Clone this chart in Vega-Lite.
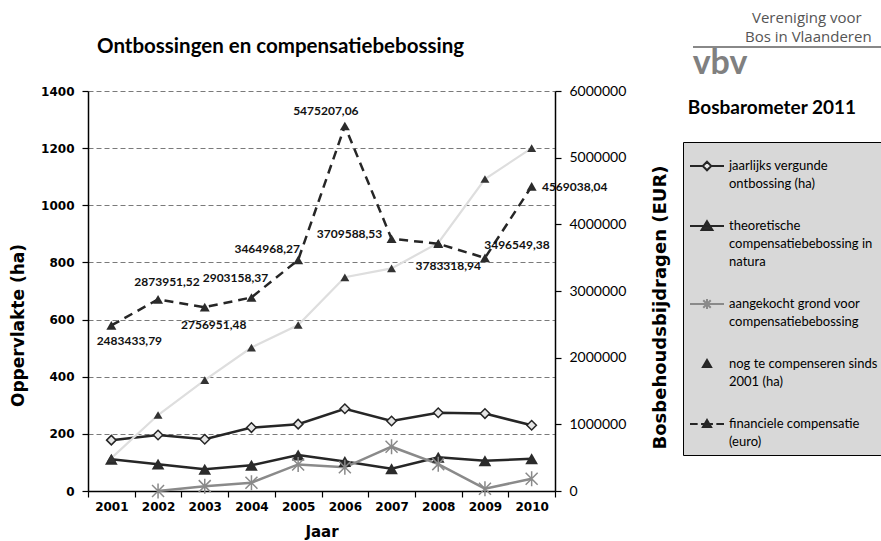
{
  "$schema": "https://vega.github.io/schema/vega-lite/v6.json",
  "width": 467,
  "height": 400,
  "autosize": {"type": "none"},
  "padding": {"left": 88, "top": 91, "right": 326, "bottom": 50},
  "background": "white",
  "title": {
    "text": "Ontbossingen en compensatiebebossing",
    "anchor": "start",
    "frame": "group",
    "dx": 9,
    "offset": -62,
    "baseline": "alphabetic",
    "font": "Lato",
    "fontSize": 20.5,
    "fontWeight": "bold",
    "color": "#000000"
  },
  "config": {
    "view": {"fill": "#d8d8d8", "stroke": null},
    "axis": {"domainColor": "#000000", "tickColor": "#000000", "domainWidth": 1.5, "tickWidth": 1.2, "labelColor": "#000000", "titleColor": "#000000"}
  },
  "data": {
    "values": [
      {"year": 2001, "ontb": 178, "theo": 111, "aank": null, "nog": 115, "fin": 2483433.79, "lbl": "2483433,79"},
      {"year": 2002, "ontb": 196, "theo": 94, "aank": 0, "nog": 266, "fin": 2873951.52, "lbl": "2873951,52"},
      {"year": 2003, "ontb": 181, "theo": 76, "aank": 17, "nog": 388, "fin": 2756951.48, "lbl": "2756951,48"},
      {"year": 2004, "ontb": 222, "theo": 90, "aank": 29, "nog": 502, "fin": 2903158.37, "lbl": "2903158,37"},
      {"year": 2005, "ontb": 234, "theo": 126, "aank": 93, "nog": 581, "fin": 3464968.27, "lbl": "3464968,27"},
      {"year": 2006, "ontb": 288, "theo": 103, "aank": 83, "nog": 748, "fin": 5475207.06, "lbl": "5475207,06"},
      {"year": 2007, "ontb": 245, "theo": 78, "aank": 155, "nog": 779, "fin": 3783318.94, "lbl": "3709588,53"},
      {"year": 2008, "ontb": 274, "theo": 118, "aank": 94, "nog": 868, "fin": 3709588.53, "lbl": "3783318,94"},
      {"year": 2009, "ontb": 271, "theo": 106, "aank": 8, "nog": 1092, "fin": 3496549.38, "lbl": "3496549,38"},
      {"year": 2010, "ontb": 230, "theo": 113, "aank": 43, "nog": 1200, "fin": 4569038.04, "lbl": "4569038,04"}
    ]
  },
  "layer": [
    {
      "encoding": {
        "x": {"field": "year", "type": "ordinal", "bandPosition": 0.5,
          "scale": {"type": "band", "paddingInner": 0, "paddingOuter": 0},
          "axis": {"labelAngle": 0, "tickBand": "extent", "tickSize": 6, "labelPadding": 4,
            "labelFont": "DejaVu Sans", "labelFontWeight": "bold", "labelFontSize": 12,
            "title": "Jaar", "titleFont": "DejaVu Sans", "titleFontWeight": "bold", "titleFontSize": 15,
            "titleY": 40, "titleBaseline": "middle"}}
      },
      "layer": [
        {"mark": {"type": "line", "color": "#262626", "strokeWidth": 2.5},
         "encoding": {"y": {"field": "ontb", "type": "quantitative",
           "scale": {"domain": [0, 1400], "nice": false},
           "axis": {"orient": "left", "values": [0, 200, 400, 600, 800, 1000, 1200, 1400], "format": "d",
             "grid": true, "gridDash": [5, 3], "gridColor": "#7a7a7a", "gridWidth": 1,
             "tickSize": 6, "labelPadding": 8, "labelFlush": false,
             "labelFont": "DejaVu Sans", "labelFontWeight": "bold", "labelFontSize": 12,
             "title": "Oppervlakte (ha)", "titleFont": "DejaVu Sans", "titleFontWeight": "bold", "titleFontSize": 17,
             "titleAngle": -90, "titleX": -70, "titleY": 234, "titleBaseline": "middle"}}}},
        {"mark": {"type": "line", "color": "#262626", "strokeWidth": 2.5},
         "encoding": {"y": {"field": "theo", "type": "quantitative"}}},
        {"transform": [{"filter": "datum.aank != null"}],
         "mark": {"type": "line", "color": "#8a8a8a", "strokeWidth": 2.5},
         "encoding": {"y": {"field": "aank", "type": "quantitative"}}},
        {"mark": {"type": "line", "color": "#dedede", "strokeWidth": 2.2},
         "encoding": {"y": {"field": "nog", "type": "quantitative"}}},
        {"mark": {"type": "point", "shape": "diamond", "size": 90, "filled": true, "fill": "#e6e6e6", "stroke": "#262626", "strokeWidth": 1.5, "opacity": 1},
         "encoding": {"y": {"field": "ontb", "type": "quantitative"}}},
        {"mark": {"type": "point", "shape": "triangle-up", "size": 160, "filled": true, "color": "#2b2b2b", "opacity": 1},
         "encoding": {"y": {"field": "theo", "type": "quantitative"}}},
        {"transform": [{"filter": "datum.aank != null"}],
         "mark": {"type": "point", "shape": "M-0.8,-0.8L0.8,0.8M-0.8,0.8L0.8,-0.8M0,-1L0,1", "size": 225, "filled": false, "stroke": "#8a8a8a", "strokeWidth": 1.5, "opacity": 1},
         "encoding": {"y": {"field": "aank", "type": "quantitative"}}},
        {"mark": {"type": "point", "shape": "triangle-up", "size": 80, "filled": true, "color": "#333333", "opacity": 1},
         "encoding": {"y": {"field": "nog", "type": "quantitative"}}}
      ]
    },
    {
      "encoding": {
        "x": {"field": "year", "type": "ordinal", "bandPosition": 0.5,
          "scale": {"type": "band", "paddingInner": 0, "paddingOuter": 0},
          "axis": {"labelAngle": 0, "tickBand": "extent", "tickSize": 6, "labelPadding": 4,
            "labelFont": "DejaVu Sans", "labelFontWeight": "bold", "labelFontSize": 12,
            "title": "Jaar", "titleFont": "DejaVu Sans", "titleFontWeight": "bold", "titleFontSize": 15,
            "titleY": 40, "titleBaseline": "middle"}},
        "y": {"field": "fin", "type": "quantitative",
          "scale": {"domain": [0, 6000000], "nice": false},
          "axis": {"orient": "right", "values": [0, 1000000, 2000000, 3000000, 4000000, 5000000, 6000000],
            "format": "d", "grid": false, "tickSize": 6, "labelPadding": 8, "labelFlush": false,
            "labelFont": "Lato", "labelFontSize": 14,
            "title": "Bosbehoudsbijdragen (EUR)", "titleFont": "DejaVu Sans", "titleFontWeight": "bold", "titleFontSize": 18,
            "titleAngle": -90, "titleX": 105, "titleY": 216, "titleBaseline": "middle"}}
      },
      "layer": [
        {"mark": {"type": "line", "color": "#262626", "strokeWidth": 2.5, "strokeDash": [9, 6]}},
        {"mark": {"type": "point", "shape": "triangle-up", "size": 100, "filled": true, "color": "#2b2b2b", "opacity": 1}},
        {"transform": [{"filter": "datum.year == 2001"}], "mark": {"type": "text", "dx": 18, "dy": 16, "font": "Lato", "fontSize": 12, "fontWeight": "bold", "color": "#111111"}, "encoding": {"text": {"field": "lbl"}}},
        {"transform": [{"filter": "datum.year == 2002"}], "mark": {"type": "text", "dx": 9, "dy": -17, "font": "Lato", "fontSize": 12, "fontWeight": "bold", "color": "#111111"}, "encoding": {"text": {"field": "lbl"}}},
        {"transform": [{"filter": "datum.year == 2003"}], "mark": {"type": "text", "dx": 9, "dy": 18, "font": "Lato", "fontSize": 12, "fontWeight": "bold", "color": "#111111"}, "encoding": {"text": {"field": "lbl"}}},
        {"transform": [{"filter": "datum.year == 2004"}], "mark": {"type": "text", "dx": -16, "dy": -19, "font": "Lato", "fontSize": 12, "fontWeight": "bold", "color": "#111111"}, "encoding": {"text": {"field": "lbl"}}},
        {"transform": [{"filter": "datum.year == 2005"}], "mark": {"type": "text", "dx": -31, "dy": -11, "font": "Lato", "fontSize": 12, "fontWeight": "bold", "color": "#111111"}, "encoding": {"text": {"field": "lbl"}}},
        {"transform": [{"filter": "datum.year == 2006"}], "mark": {"type": "text", "dx": -19, "dy": -15, "font": "Lato", "fontSize": 12, "fontWeight": "bold", "color": "#111111"}, "encoding": {"text": {"field": "lbl"}}},
        {"transform": [{"filter": "datum.year == 2007"}], "mark": {"type": "text", "dx": -42, "dy": -5, "font": "Lato", "fontSize": 12, "fontWeight": "bold", "color": "#111111"}, "encoding": {"text": {"field": "lbl"}}},
        {"transform": [{"filter": "datum.year == 2008"}], "mark": {"type": "text", "dx": 10, "dy": 22, "font": "Lato", "fontSize": 12, "fontWeight": "bold", "color": "#111111"}, "encoding": {"text": {"field": "lbl"}}},
        {"transform": [{"filter": "datum.year == 2009"}], "mark": {"type": "text", "dx": 32, "dy": -13, "font": "Lato", "fontSize": 12, "fontWeight": "bold", "color": "#111111"}, "encoding": {"text": {"field": "lbl"}}},
        {"transform": [{"filter": "datum.year == 2010"}], "mark": {"type": "text", "dx": 43, "dy": 1, "font": "Lato", "fontSize": 12, "fontWeight": "bold", "color": "#111111"}, "encoding": {"text": {"field": "lbl"}}}
      ]
    },
    {
      "data": {"values": [
        {"key": "jaarlijks vergunde|ontbossing (ha)"},
        {"key": "theoretische|compensatiebebossing in|natura"},
        {"key": "aangekocht grond voor|compensatiebebossing"},
        {"key": "nog te compenseren sinds|2001 (ha)"},
        {"key": "financiele compensatie|(euro)"}
      ]},
      "mark": {"type": "point", "opacity": 0, "size": 1156, "strokeWidth": 2, "filled": true},
      "encoding": {
        "shape": {"field": "key", "type": "nominal",
          "scale": {"domain": ["jaarlijks vergunde|ontbossing (ha)", "theoretische|compensatiebebossing in|natura", "aangekocht grond voor|compensatiebebossing", "nog te compenseren sinds|2001 (ha)", "financiele compensatie|(euro)"],
            "range": [
              "M-1,0L-0.25,0M0.25,0L1,0M0,-0.25L0.25,0L0,0.25L-0.25,0Z",
              "M-1,0L1,0M0,-0.28L0.32,0.24L-0.32,0.24Z",
              "M-1,0L1,0M-0.22,-0.22L0.22,0.22M-0.22,0.22L0.22,-0.22M0,-0.3L0,0.3",
              "M0,-0.24L0.24,0.18L-0.24,0.18Z",
              "M-1,0L-0.55,0M-0.35,0L0.35,0M0.55,0L1,0M0,-0.24L0.24,0.18L-0.24,0.18Z"
            ]},
          "legend": {"orient": "none", "legendX": 595, "legendY": 51, "title": null,
            "labelExpr": "split(datum.label, '|')",
            "labelFont": "Lato", "labelFontSize": 13, "labelColor": "#000000", "labelLimit": 0,
            "fillColor": "#d8d8d8", "strokeColor": "#000000", "padding": 6, "rowPadding": 17,
            "symbolSize": 1156, "labelOffset": 4, "symbolStrokeWidth": 2,
            "encoding": {
              "symbols": {
                "opacity": {"value": 1},
                "fill": {"value": {"expr": "indexof(datum.value, 'jaarlijks') == 0 ? '#e6e6e6' : (indexof(datum.value, 'aangekocht') == 0 ? 'transparent' : '#2b2b2b')"}}
              },
              "labels": {"lineHeight": {"value": 18}}}}},
        "stroke": {"field": "key", "type": "nominal",
          "scale": {"domain": ["jaarlijks vergunde|ontbossing (ha)", "theoretische|compensatiebebossing in|natura", "aangekocht grond voor|compensatiebebossing", "nog te compenseren sinds|2001 (ha)", "financiele compensatie|(euro)"],
            "range": ["#262626", "#262626", "#8a8a8a", "#262626", "#262626"]}}
      }
    },
    {
      "data": {"values": [{"t": "Bosbarometer 2011"}]},
      "mark": {"type": "text", "font": "Lato", "fontSize": 19, "fontWeight": "bold", "color": "#000000", "align": "center", "baseline": "middle"},
      "encoding": {"text": {"field": "t"}, "x": {"value": 684}, "y": {"value": 17}}
    },
    {
      "data": {"values": [{"t": "Vereniging voor"}]},
      "mark": {"type": "text", "font": "Open Sans", "fontSize": 15, "color": "#555555", "align": "left", "baseline": "middle"},
      "encoding": {"text": {"field": "t"}, "x": {"value": 664}, "y": {"value": -73}}
    },
    {
      "data": {"values": [{"t": "Bos in Vlaanderen"}]},
      "mark": {"type": "text", "font": "Open Sans", "fontSize": 15, "color": "#555555", "align": "left", "baseline": "middle"},
      "encoding": {"text": {"field": "t"}, "x": {"value": 657}, "y": {"value": -54}}
    },
    {
      "data": {"values": [{"t": "vbv"}]},
      "mark": {"type": "text", "font": "Lato", "fontSize": 34, "fontWeight": "bold", "color": "#808080", "align": "center", "baseline": "middle"},
      "encoding": {"text": {"field": "t"}, "x": {"value": 632}, "y": {"value": -27}}
    },
    {
      "data": {"values": [{"t": "line"}]},
      "mark": {"type": "rule", "color": "#888888", "strokeWidth": 2},
      "encoding": {"x": {"value": 605}, "x2": {"value": 800}, "y": {"value": -44}}
    }
  ],
  "resolve": {"scale": {"y": "independent"}, "axis": {"y": "independent"}}
}
